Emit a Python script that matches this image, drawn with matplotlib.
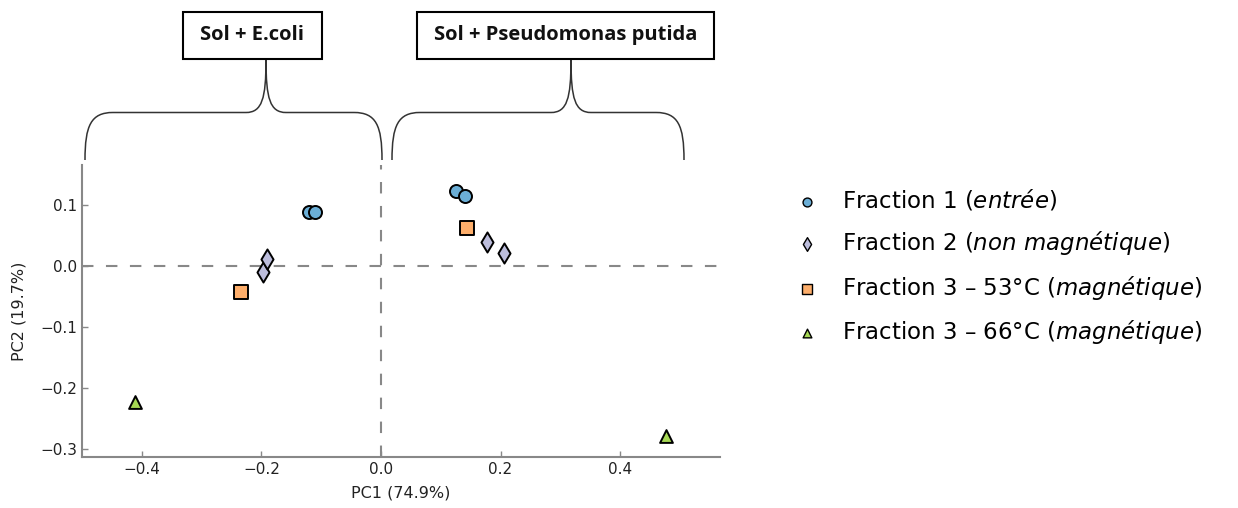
import matplotlib
matplotlib.use("Agg")
import matplotlib.pyplot as plt
from matplotlib.path import Path
from matplotlib.patches import PathPatch, Rectangle
from matplotlib import font_manager

# ---------------- data ----------------
f1_x = [-0.120, -0.111, 0.125, 0.140]
f1_y = [0.0895, 0.0895, 0.124, 0.1157]
f2_x = [-0.1965, -0.190, 0.178, 0.206]
f2_y = [-0.0098, 0.0125, 0.0398, 0.0213]
f3a_x = [-0.2335, 0.144]
f3a_y = [-0.0416, 0.0623]
f3b_x = [-0.411, 0.477]
f3b_y = [-0.223, -0.278]

labels = [r"Fraction 1 ($\mathit{entrée}$)",
          r"Fraction 2 ($\mathit{non\ magnétique}$)",
          r"Fraction 3 – 53°C ($\mathit{magnétique}$)",
          r"Fraction 3 – 66°C ($\mathit{magnétique}$)"]
group_labels = ["Sol + E.coli", "Sol + Pseudomonas putida"]
xlabel = "PC1 (74.9%)"
ylabel = "PC2 (19.7%)"

# ---------------- fonts ----------------
avail = {f.name for f in font_manager.fontManager.ttflist}
def pick(names):
    for n in names:
        if n in avail:
            return n
    return "DejaVu Sans"
box_font = pick(["Liberation Sans Narrow", "Open Sans", "Lato"])
plt.rcParams["mathtext.fontset"] = "dejavusans"

W, H = 1238, 508
fig = plt.figure(figsize=(W / 100, H / 100), dpi=100)
ax = fig.add_axes([82 / W, 1 - 457 / H, (720 - 82) / W, (457 - 165) / H])

colors = ["#6baed6", "#bcbddc", "#fdae6b", "#a6d854"]
kw = dict(edgecolors="black", linewidths=1.4, zorder=3)
h1 = ax.scatter(f1_x, f1_y, s=88, marker="o", c=colors[0], **kw)
h2 = ax.scatter(f2_x, f2_y, s=105, marker="d", c=colors[1], **kw)
h3 = ax.scatter(f3a_x, f3a_y, s=105, marker="s", c=colors[2], **kw)
h4 = ax.scatter(f3b_x, f3b_y, s=85, marker="^", c=colors[3], **kw)

ax.axhline(0, color="#888888", ls=(0, (5.5, 6)), lw=1.5, zorder=1)
ax.axvline(0, color="#888888", ls=(0, (5.5, 6)), lw=1.5, zorder=1)

ax.set_xlim(-0.5, 0.567)
ax.set_ylim(-0.3125, 0.166)
ax.set_xticks([-0.4, -0.2, 0.0, 0.2, 0.4])
ax.set_yticks([-0.3, -0.2, -0.1, 0.0, 0.1])
for s in ["top", "right"]:
    ax.spines[s].set_visible(False)
for s in ["left", "bottom"]:
    ax.spines[s].set_color("#888888")
    ax.spines[s].set_linewidth(1.5)
ax.tick_params(direction="in", length=4, width=1, color="#888888",
               labelsize=11, labelcolor="#222222")
ax.set_xlabel(xlabel, fontsize=11.5, color="#222222", labelpad=6)
ax.set_ylabel(ylabel, fontsize=11.5, color="#222222", labelpad=10)

leg = fig.legend([h1, h2, h3, h4], labels, loc="upper left",
                 bbox_to_anchor=(797 / W, 1 - 188 / H), frameon=False,
                 markerscale=0.68, handletextpad=1.05, labelspacing=0.71,
                 prop={"family": "DejaVu Sans", "size": 16.5}, handlelength=0.9,
                 borderaxespad=0, borderpad=0)
for lh in leg.legend_handles:
    lh.set_linewidth(1.0)

# ---------------- braces and boxes (overlay in pixel coords) ----------------
ov = fig.add_axes([0, 0, 1, 1], zorder=-1)
ov.set_xlim(0, W)
ov.set_ylim(H, 0)
ov.axis("off")

def brace(x0, x1, xa, yb, yf, yt):
    verts = [(x0, yb), (x0, yf + 13), (x0 + 6, yf), (x0 + 28, yf),
             (xa - 20, yf),
             (xa - 4, yf), (xa, yf - 14), (xa, yt),
             (xa, yf - 14), (xa + 4, yf), (xa + 20, yf),
             (x1 - 28, yf),
             (x1 - 6, yf), (x1, yf + 13), (x1, yb)]
    codes = [Path.MOVETO, Path.CURVE4, Path.CURVE4, Path.CURVE4,
             Path.LINETO,
             Path.CURVE4, Path.CURVE4, Path.CURVE4,
             Path.CURVE4, Path.CURVE4, Path.CURVE4,
             Path.LINETO,
             Path.CURVE4, Path.CURVE4, Path.CURVE4]
    ov.add_patch(PathPatch(Path(verts, codes), fc="none", ec="#333333", lw=1.1))

brace(85, 382, 266, 160, 112.5, 60)
brace(392, 684, 571, 160, 112.5, 60)

boxes = [(182.5, 321.5), (417, 714)]
for (bx0, bx1), lab in zip(boxes, group_labels):
    ov.add_patch(Rectangle((bx0, 11.5), bx1 - bx0, 47, fc="white", ec="black", lw=1.5))
    ov.text((bx0 + bx1) / 2, 35, lab, ha="center", va="center",
            fontsize=14.5, fontweight="bold", family=box_font, color="#111111")

fig.savefig("out.png", dpi=100)
